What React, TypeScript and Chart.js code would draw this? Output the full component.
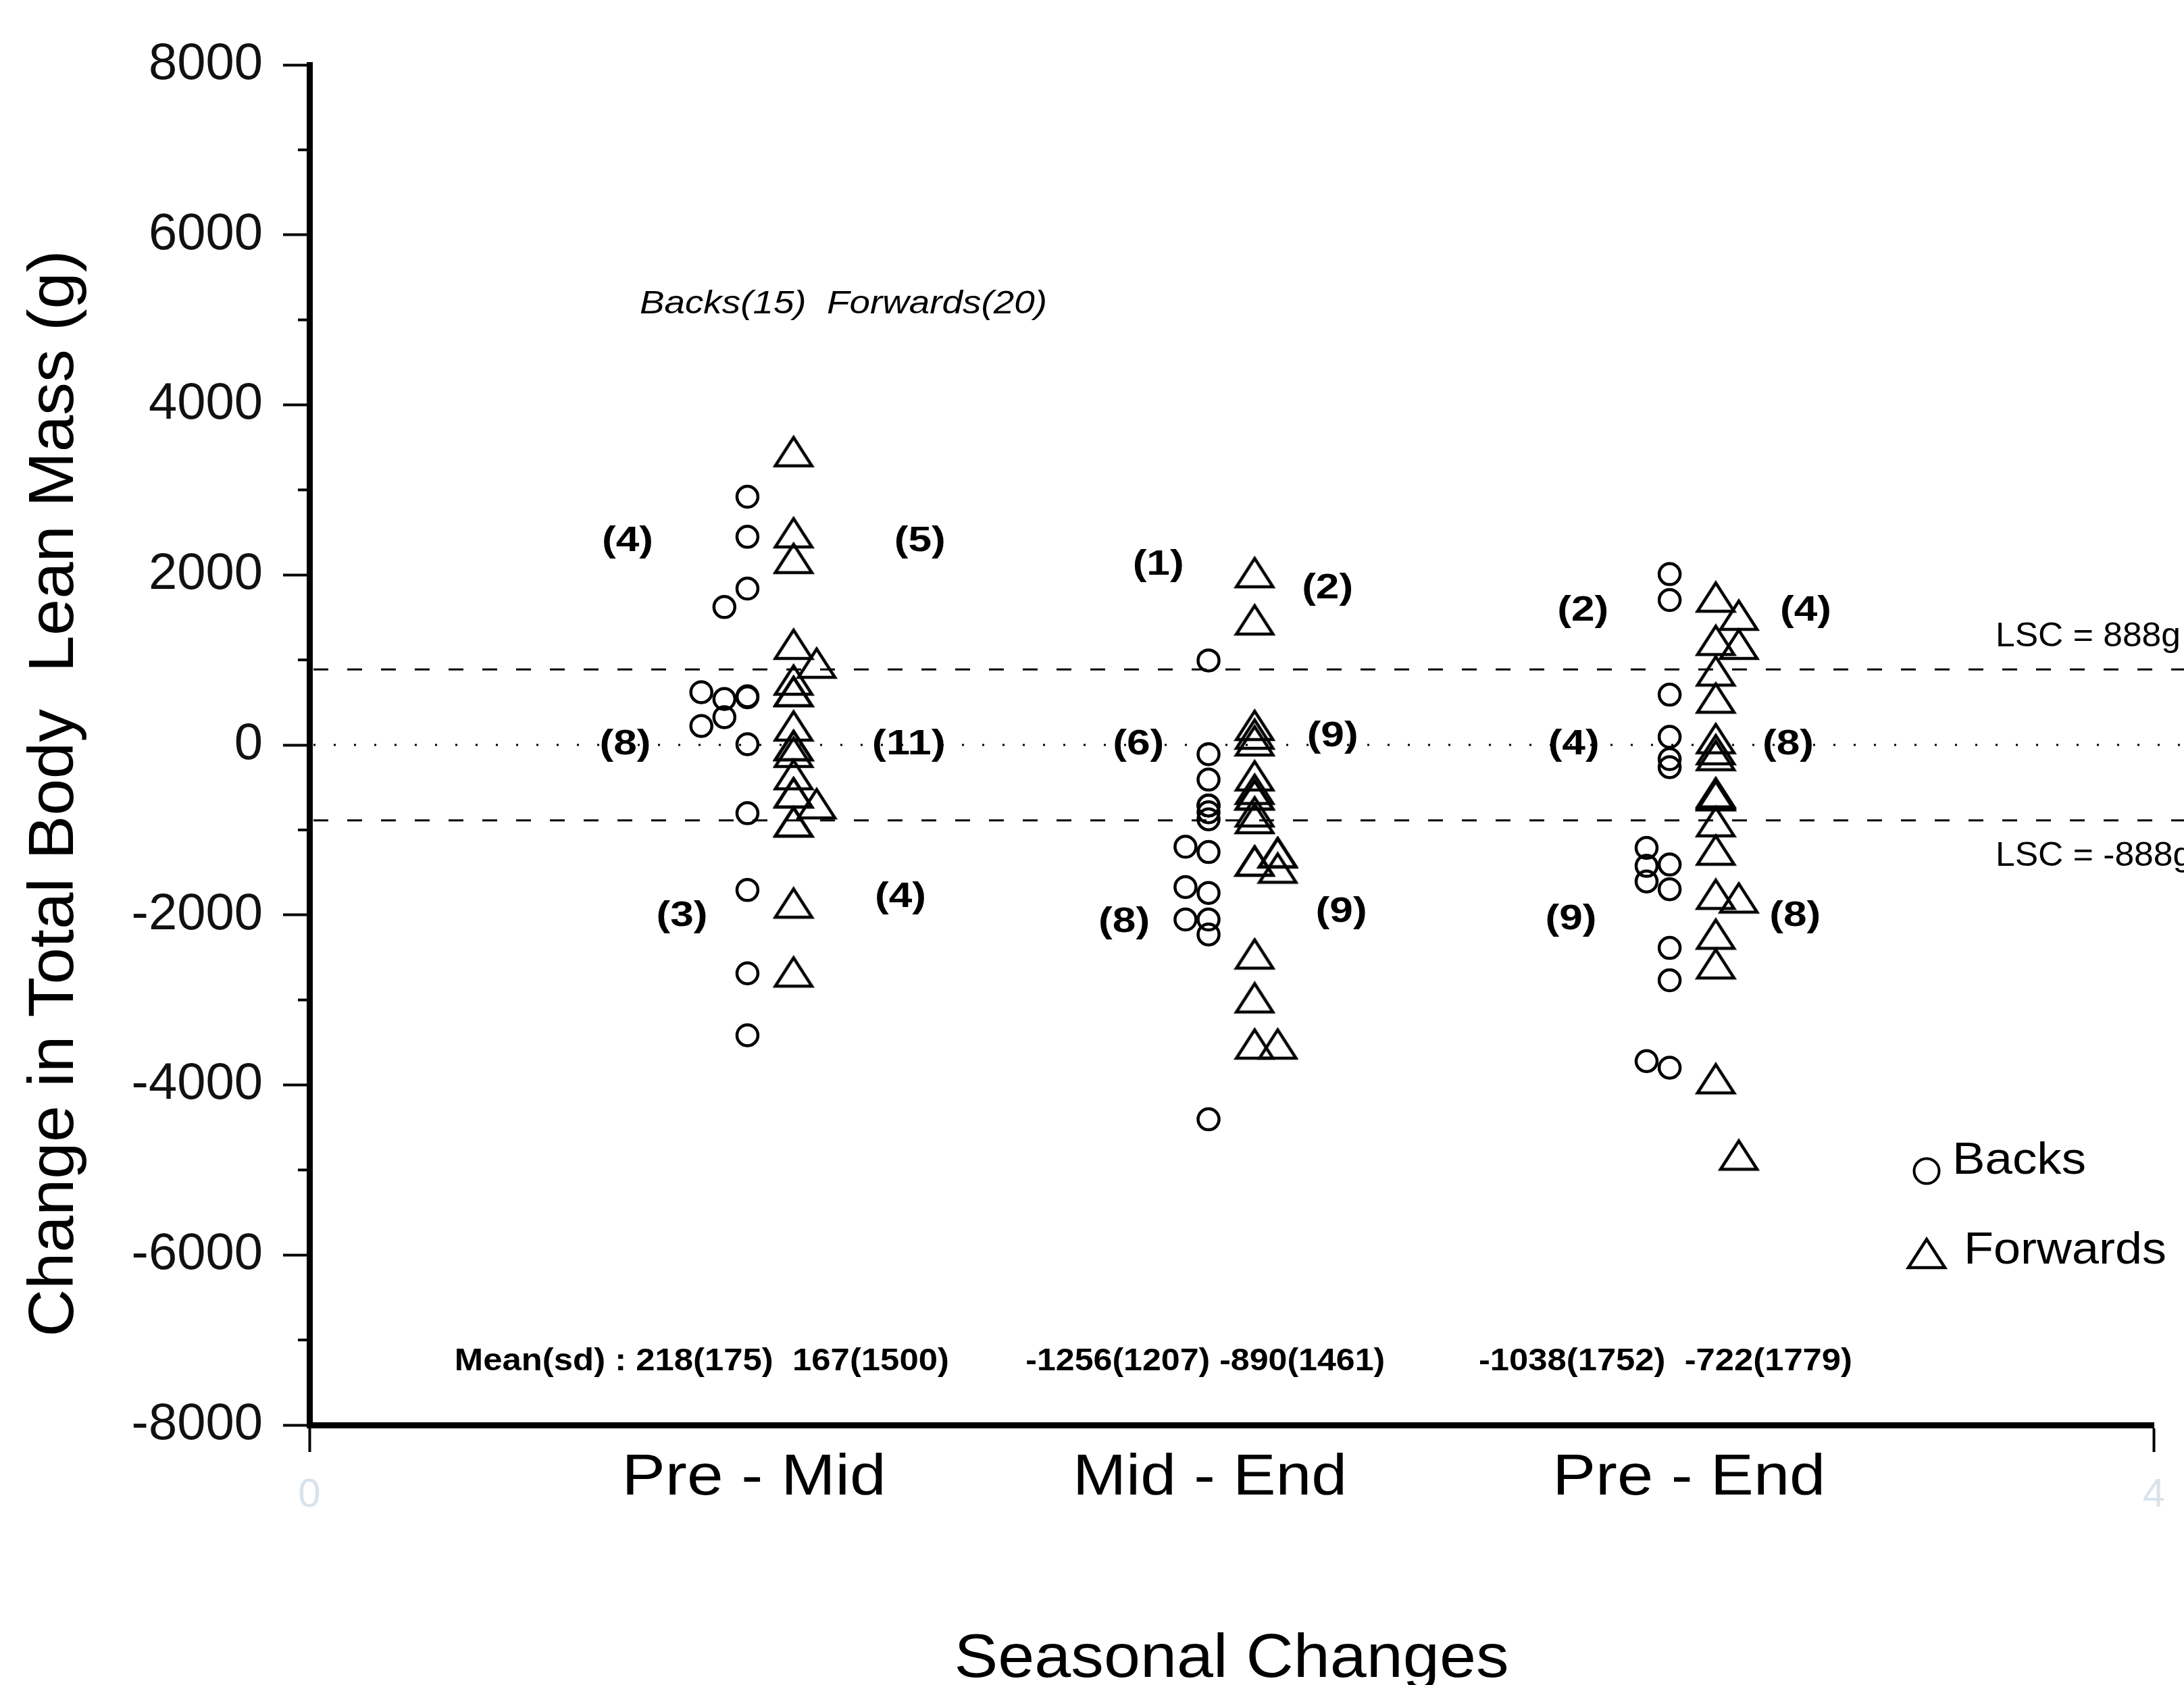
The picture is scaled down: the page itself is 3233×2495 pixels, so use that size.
import React, { useEffect, useRef } from 'react';
import { Chart, registerables } from 'chart.js';

Chart.register(...registerables);

// ---------- data ----------
const categories = ['Pre - Mid', 'Mid - End', 'Pre - End'];
const yTickValues = [-8000, -6000, -4000, -2000, 0, 2000, 4000, 6000, 8000];
const yMinorTickValues = [-7000, -5000, -3000, -1000, 1000, 3000, 5000, 7000];
const xTickValues = [0, 4];
const lscValue = 888;

// Backs (circles): change in total body lean mass (g); lane = jitter lane (0 main, -1/-2 to the left)
const backsPreMid = [2919, 2448, 1839, 1622, 620, 540, 572, 560, 326, 223, 8, -803, -1707, -2687, -3416];
const backsPreMidLane = [0, 0, 0, -1, -2, -1, 0, 0, -1, -2, 0, 0, 0, 0, 0];
const backsMidEnd = [994, -109, -408, -713, -713, -792, -875, -1198, -1260, -1672, -1741, -2054, -2054, -2230, -4404];
const backsMidEndLane = [0, 0, 0, 0, 0, 0, 0, -1, 0, -1, 0, -1, 0, 0, 0];
const backsPreEnd = [2009, 1704, 591, 95, -167, -262, -1211, -1407, -1423, -1606, -1698, -2388, -2769, -3720, -3797];
const backsPreEndLane = [0, 0, 0, 0, 0, 0, -1, 0, -1, -1, 0, 0, 0, -1, 0];

// Forwards (triangles); lane 0 main, 1 to the right
const forwardsPreMid = [3450, 2496, 2194, 1184, 962, 763, 628, 628, 223, -8, -8, -87, -350, -564, -564, -692, -906, -906, -1860, -2671];
const forwardsPreMidLane = [0, 0, 0, 0, 1, 0, 0, 0, 0, 0, 0, 0, 0, 0, 0, 1, 0, 0, 0, 0];
const forwardsMidEnd = [2027, 1471, 230, 127, 48, -363, -522, -588, -588, -787, -866, -1268, -1268, -1366, -1366, -1449, -2459, -2975, -3518, -3518];
const forwardsMidEndLane = [0, 0, 0, 0, 0, 0, 0, 0, 0, 0, 0, 1, 1, 0, 0, 1, 0, 0, 0, 1];
const forwardsPreEnd = [1739, 1526, 1230, 1184, 870, 551, 74, -56, -125, -562, -580, -598, -903, -1237, -1757, -1800, -2226, -2575, -3927, -4825];
const forwardsPreEndLane = [0, 1, 0, 1, 0, 0, 0, 0, 0, 0, 0, 0, 0, 0, 0, 1, 0, 0, 0, 1];

// counts above / within / below the LSC band
const backsCounts = [[4, 8, 3], [1, 6, 8], [2, 4, 9]];
const forwardsCounts = [[5, 11, 4], [2, 9, 9], [4, 8, 8]];
const meanTexts = ['Mean(sd) : 218(175)  167(1500)', '-1256(1207) -890(1461)', '-1038(1752)  -722(1779)'];
const groupHeader = 'Backs(15)  Forwards(20)';
const yTitle = 'Change in Total Body  Lean Mass (g)';
const xTitle = 'Seasonal Changes';
const legendLabels = ['Backs', 'Forwards'];

// ---------- layout of annotations (data coordinates) ----------
const backsCountPos = [
  [[0.69, 2393], [0.685, 0], [0.808, -2019]],
  [[1.841, 2114], [1.798, 0], [1.767, -2083]],
  [[2.762, 1574], [2.742, 0], [2.736, -2051]],
];
const forwardsCountPos = [
  [[1.324, 2393], [1.30, 0], [1.282, -1789]],
  [[2.208, 1836], [2.219, 95], [2.238, -1971]],
  [[3.245, 1574], [3.207, 0], [3.222, -2019]],
];
const meanPos = [[0.851, 732], [1.943, 532], [2.941, 553]]; // x, target width
const catPos = [[0.964, 391], [1.953, 406], [2.992, 404]];

const FONT = '"Liberation Sans", Arial, sans-serif';

function fillFitted(
  ctx: CanvasRenderingContext2D,
  text: string,
  x: number,
  y: number,
  font: string,
  opts: { width?: number; sx?: number; align?: CanvasTextAlign; color?: string } = {}
) {
  ctx.save();
  ctx.font = font;
  ctx.textBaseline = 'middle';
  ctx.textAlign = opts.align ?? 'center';
  ctx.fillStyle = opts.color ?? '#000';
  const w = ctx.measureText(text).width;
  const sx = opts.width ? opts.width / w : opts.sx ?? 1;
  ctx.translate(x, y);
  ctx.scale(sx, 1);
  ctx.fillText(text, 0, 0);
  ctx.restore();
  return sx;
}

function makeTriangle(): HTMLCanvasElement {
  const c = document.createElement('canvas');
  c.width = 62;
  c.height = 50;
  const g = c.getContext('2d')!;
  g.strokeStyle = '#000';
  g.lineWidth = 4.5;
  g.lineJoin = 'miter';
  g.beginPath();
  g.moveTo(31, 4);
  g.lineTo(58, 46);
  g.lineTo(4, 46);
  g.closePath();
  g.stroke();
  return c;
}

function buildPoints(groups: number[][], lanes: number[][], base: number) {
  const pts: { x: number; y: number }[] = [];
  groups.forEach((vals, i) => {
    vals.forEach((v, j) => {
      pts.push({ x: i + 1 + base + lanes[i][j] * 0.05, y: v });
    });
  });
  return pts;
}

export default function App() {
  const ref = useRef<HTMLCanvasElement | null>(null);

  useEffect(() => {
    const canvas = ref.current;
    if (!canvas) return;
    const tri = makeTriangle();

    const backsPts = buildPoints(
      [backsPreMid, backsMidEnd, backsPreEnd],
      [backsPreMidLane, backsMidEndLane, backsPreEndLane],
      -0.05
    );
    const forwardsPts = buildPoints(
      [forwardsPreMid, forwardsMidEnd, forwardsPreEnd],
      [forwardsPreMidLane, forwardsMidEndLane, forwardsPreEndLane],
      0.05
    );

    const annot = {
      id: 'annot',
      beforeDatasetsDraw(chart: any) {
        const { ctx, chartArea, scales } = chart;
        const y = scales.y;
        const line = (val: number, dash: number[]) => {
          const py = y.getPixelForValue(val);
          ctx.save();
          ctx.setLineDash(dash);
          ctx.lineWidth = 3;
          ctx.strokeStyle = '#000';
          ctx.beginPath();
          ctx.moveTo(chartArea.left + 6, py);
          ctx.lineTo(chart.width, py);
          ctx.stroke();
          ctx.restore();
        };
        line(lscValue, [22, 28]);
        line(-lscValue, [22, 28]);
        line(0, [3, 27]);
      },
      afterDraw(chart: any) {
        const { ctx, chartArea, scales } = chart;
        const x = scales.x;
        const y = scales.y;

        // minor y ticks
        ctx.save();
        ctx.strokeStyle = '#000';
        ctx.lineWidth = 4;
        yMinorTickValues.forEach((v) => {
          const py = y.getPixelForValue(v);
          ctx.beginPath();
          ctx.moveTo(chartArea.left - 17, py);
          ctx.lineTo(chartArea.left, py);
          ctx.stroke();
        });
        ctx.restore();

        // counts
        const countFont = `bold 52px ${FONT}`;
        for (let i = 0; i < 3; i++) {
          for (let k = 0; k < 3; k++) {
            const b = backsCounts[i][k];
            const [bx, by] = backsCountPos[i][k];
            const bt = `(${b})`;
            fillFitted(ctx, bt, x.getPixelForValue(bx), y.getPixelForValue(by), countFont, {
              width: bt.length > 3 ? 109 : 76,
            });
            const f = forwardsCounts[i][k];
            const [fx, fy] = forwardsCountPos[i][k];
            const ft = `(${f})`;
            fillFitted(ctx, ft, x.getPixelForValue(fx), y.getPixelForValue(fy), countFont, {
              width: ft.length > 3 ? 109 : 76,
            });
          }
        }

        // header
        fillFitted(ctx, groupHeader, x.getPixelForValue(1.158), y.getPixelForValue(5183), `italic 48px ${FONT}`, {
          width: 603,
        });

        // mean (sd)
        meanTexts.forEach((t, i) => {
          const [mx, mw] = meanPos[i];
          fillFitted(ctx, t, x.getPixelForValue(mx), y.getPixelForValue(-7243) + 2, `bold 46px ${FONT}`, {
            width: mw,
          });
        });

        // LSC labels
        const sx = fillFitted(ctx, `LSC = ${lscValue}g`, 2954, y.getPixelForValue(lscValue) - 48, `50px ${FONT}`, {
          width: 274,
          align: 'left',
        });
        fillFitted(ctx, `LSC = -${lscValue}g`, 2954, y.getPixelForValue(-lscValue) + 53, `50px ${FONT}`, {
          sx,
          align: 'left',
        });

        // legend
        ctx.save();
        ctx.strokeStyle = '#000';
        ctx.lineWidth = 4;
        ctx.beginPath();
        ctx.arc(2852, 1734, 18.5, 0, Math.PI * 2);
        ctx.stroke();
        ctx.drawImage(tri, 2852 - tri.width / 2, 1856 - tri.height / 2);
        ctx.restore();
        fillFitted(ctx, legendLabels[0], 2890, 1720, `66px ${FONT}`, { width: 198, align: 'left' });
        fillFitted(ctx, legendLabels[1], 2907, 1853, `66px ${FONT}`, { width: 300, align: 'left' });

        // category labels
        catPos.forEach(([cx, cw], i) => {
          fillFitted(ctx, categories[i], x.getPixelForValue(cx), 2189, `86px ${FONT}`, { width: cw });
        });

        // x title
        fillFitted(ctx, xTitle, 1823, 2458, `90px ${FONT}`, { width: 821 });

        // y title
        ctx.save();
        ctx.translate(82, 1175);
        ctx.rotate(-Math.PI / 2);
        fillFitted(ctx, yTitle, 0, 0, `95px ${FONT}`, { width: 1609 });
        ctx.restore();
      },
    };

    const chart = new Chart(canvas, {
      type: 'scatter',
      data: {
        datasets: [
          {
            label: 'Backs',
            data: backsPts,
            pointStyle: 'circle',
            pointRadius: 15.5,
            borderWidth: 4.5,
            borderColor: '#000',
            backgroundColor: 'rgba(0,0,0,0)',
          },
          {
            label: 'Forwards',
            data: forwardsPts,
            pointStyle: tri as any,
            pointRadius: 20,
            borderWidth: 0,
            borderColor: '#000',
            backgroundColor: 'rgba(0,0,0,0)',
          },
        ],
      },
      options: {
        responsive: false,
        animation: false,
        devicePixelRatio: 1,
        layout: { padding: { top: 96, right: 23, bottom: 0, left: 0 } },
        plugins: { legend: { display: false }, tooltip: { enabled: false }, title: { display: false } },
        scales: {
          x: {
            type: 'linear',
            min: 0,
            max: 4,
            afterFit: (s: any) => {
              s.height = 2495 - 2110;
            },
            afterBuildTicks: (s: any) => {
              s.ticks = xTickValues.map((v) => ({ value: v }));
            },
            ticks: {
              callback: (v: any) => String(v),
              font: { family: FONT, size: 60 },
              color: '#d9e3ec',
              padding: 28,
              maxRotation: 0,
              autoSkip: false,
            },
            grid: { drawOnChartArea: false, drawTicks: true, tickLength: 40, tickWidth: 4, tickColor: '#000' },
            border: { display: true, color: '#000', width: 9 },
          },
          y: {
            type: 'linear',
            min: -8000,
            max: 8000,
            afterFit: (s: any) => {
              s.width = 458;
            },
            afterBuildTicks: (s: any) => {
              s.ticks = yTickValues.map((v) => ({ value: v }));
            },
            ticks: {
              callback: (v: any) => String(v),
              font: { family: FONT, size: 76 },
              color: '#111',
              padding: 30,
              autoSkip: false,
            },
            grid: { drawOnChartArea: false, drawTicks: true, tickLength: 39, tickWidth: 4, tickColor: '#000' },
            border: { display: true, color: '#000', width: 9 },
          },
        },
      },
      plugins: [annot],
    });

    return () => chart.destroy();
  }, []);

  return (
    <div style={{ position: 'absolute', left: 0, top: 0, width: 3233, height: 2495, background: '#fff' }}>
      <canvas ref={ref} width={3233} height={2495} style={{ display: 'block', width: 3233, height: 2495 }} />
    </div>
  );
}
